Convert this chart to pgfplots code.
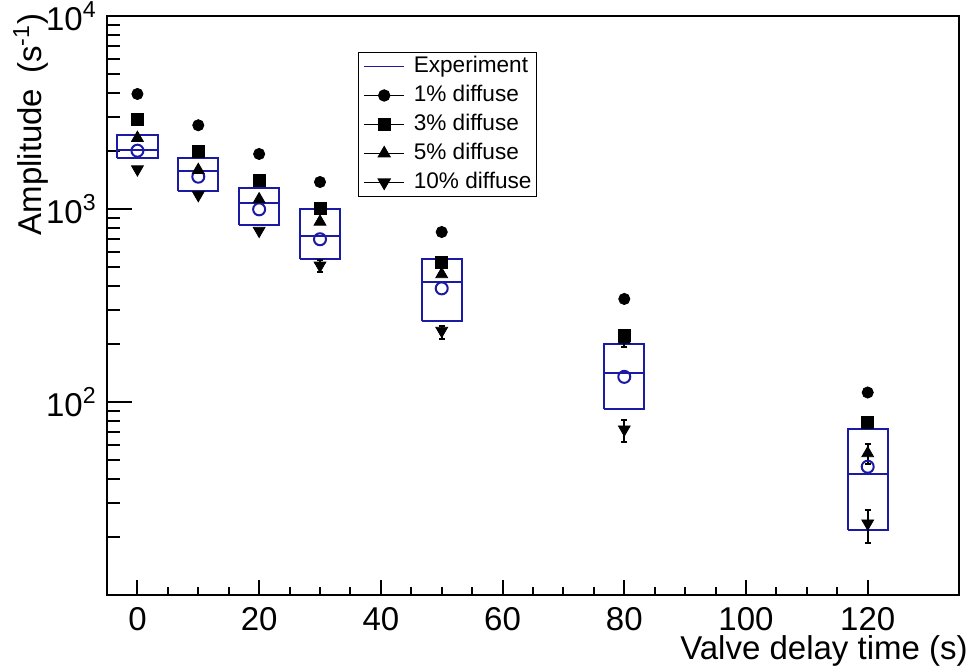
\documentclass[border=0pt]{standalone}
\usepackage{fontspec}
\setmainfont{Liberation Sans}
\usepackage{pgfplots}
\pgfplotsset{compat=1.18}
\definecolor{expcol}{RGB}{26,26,165}

\begin{document}
\begin{tikzpicture}
\useasboundingbox (0,0) rectangle (487pt,333pt);
\begin{axis}[
  at={(53.5pt,35.5pt)}, anchor=south west,
  scale only axis, width=426pt, height=289.5pt,
  ymode=log, xmin=-5, xmax=135, ymin=10, ymax=10000,
  xtick={0,20,...,120}, minor x tick num=3,
  ytick={100,1000,10000},
  yticklabels={10\textsuperscript{2},10\textsuperscript{3},10\textsuperscript{4}},
  minor ytick={20,30,40,50,60,70,80,90,200,300,400,500,600,700,800,900,2000,3000,4000,5000,6000,7000,8000,9000},
  tick align=inside, tick pos=left,
  axis line style={line width=1pt},
  every tick/.style={black, line width=1pt},
  xtick style={/pgfplots/major tick length=7.5pt, /pgfplots/minor tick length=4pt},
  ytick style={/pgfplots/major tick length=12.5pt, /pgfplots/minor tick length=6.3pt},
  /pgf/number format/assume math mode=true,
  tick label style={font=\fontsize{16.5}{19}\selectfont, inner sep=0pt},
  xticklabel shift=6pt, yticklabel shift=5pt,
  label style={font=\fontsize{16.5}{19}\selectfont, inner sep=0pt},
  xlabel={Valve delay time (s)},
  xlabel style={at={(axis description cs:1.0106,-0.0965)}, anchor=east},
  ylabel={Amplitude\kern3pt{} (s\textsuperscript{-1})},
  ylabel style={at={(axis description cs:-0.0892,1.005)}, anchor=east},
  legend image code/.code={\draw[#1, mark=none] (0pt,0pt) -- (20pt,0pt); \draw[#1] plot coordinates {(10pt,0pt)};},
  legend cell align=left,
  legend style={at={(0.2946,0.938)}, anchor=north west, draw=black, line width=0.6pt,
    font=\fontsize{11.3}{13}\selectfont, inner xsep=2.5pt, inner ysep=1.25pt,
    nodes={inner sep=0pt, text height=9pt, text depth=2.5pt},
    row sep=3pt, column sep=4.5pt},
]
% Legend
\addlegendimage{expcol, line width=0.6pt}
\addlegendentry{Experiment}
\addlegendimage{black, line width=0.6pt, mark=*, mark size=2.8pt}
\addlegendentry{1\% diffuse}
\addlegendimage{black, line width=0.6pt, mark=square*, mark size=3pt}
\addlegendentry{3\% diffuse}
\addlegendimage{black, line width=0.6pt, mark=triangle*, mark size=3.4pt}
\addlegendentry{5\% diffuse}
\addlegendimage{black, line width=0.6pt, mark=triangle*, mark size=3.4pt, mark options={rotate=180}}
\addlegendentry{10\% diffuse}

% Experiment boxes
\addplot[expcol, line width=1pt, line join=miter, forget plot] coordinates {(-3.3,1844) (3.3,1844) (3.3,2416) (-3.3,2416) (-3.3,1844)};
\addplot[expcol, line width=1pt, forget plot] coordinates {(-3.3,2021) (3.3,2021)};
\addplot[expcol, line width=1pt, line join=miter, forget plot] coordinates {(6.7,1235) (13.3,1235) (13.3,1831) (6.7,1831) (6.7,1235)};
\addplot[expcol, line width=1pt, forget plot] coordinates {(6.7,1568) (13.3,1568)};
\addplot[expcol, line width=1pt, line join=miter, forget plot] coordinates {(16.7,826) (23.3,826) (23.3,1290) (16.7,1290) (16.7,826)};
\addplot[expcol, line width=1pt, forget plot] coordinates {(16.7,1074) (23.3,1074)};
\addplot[expcol, line width=1pt, line join=miter, forget plot] coordinates {(26.7,553) (33.3,553) (33.3,996) (26.7,996) (26.7,553)};
\addplot[expcol, line width=1pt, forget plot] coordinates {(26.7,724) (33.3,724)};
\addplot[expcol, line width=1pt, line join=miter, forget plot] coordinates {(46.7,263) (53.3,263) (53.3,549) (46.7,549) (46.7,263)};
\addplot[expcol, line width=1pt, forget plot] coordinates {(46.7,419) (53.3,419)};
\addplot[expcol, line width=1pt, line join=miter, forget plot] coordinates {(76.7,91.6) (83.3,91.6) (83.3,200) (76.7,200) (76.7,91.6)};
\addplot[expcol, line width=1pt, forget plot] coordinates {(76.7,142) (83.3,142)};
\addplot[expcol, line width=1pt, line join=miter, forget plot] coordinates {(116.7,21.7) (123.3,21.7) (123.3,72.2) (116.7,72.2) (116.7,21.7)};
\addplot[expcol, line width=1pt, forget plot] coordinates {(116.7,42.4) (123.3,42.4)};

% Experiment open circles
\addplot[only marks, mark=o, mark size=3pt, expcol, line width=1pt, forget plot]
  coordinates {(0,2005) (10,1470) (20,996) (30,697) (50,388) (80,135) (120,46.2)};

% 1% diffuse
\addplot[only marks, mark=*, mark size=2.8pt, black, forget plot]
  coordinates {(0,3945) (10,2716) (20,1928) (30,1380) (50,760) (80,342) (120,112)};
% 3% diffuse
\addplot[only marks, mark=square*, mark size=3pt, black, forget plot]
  coordinates {(0,2916) (10,1982) (20,1402) (30,1003) (50,529) (80,222) (120,78.8)};
% 5% diffuse
\addplot[only marks, mark=triangle*, mark size=3.4pt, black, forget plot,
  error bars/.cd, y dir=both, y explicit,
  error bar style={line width=1pt, black},
  error mark options={rotate=90, mark size=1.6pt, line width=1pt, black}]
  coordinates {(0,2333) (10,1592) (20,1122) (30,859) (50,459) (80,210) +- (0,18) (120,54.2) +- (0,6.4)};
% 10% diffuse
\addplot[only marks, mark=triangle*, mark size=3.4pt, mark options={rotate=180}, black, forget plot,
  error bars/.cd, y dir=both, y explicit,
  error bar style={line width=1pt, black},
  error mark options={rotate=90, mark size=1.6pt, line width=1pt, black}]
  coordinates {(0,1606) (10,1182) (20,772) (30,510) +- (0,37) (50,234) += (0,14) -= (0,23) (80,72.2) += (0,8) -= (0,10) (120,23.5) += (0,4) -= (0,5)};
\end{axis}
\end{tikzpicture}
\end{document}
